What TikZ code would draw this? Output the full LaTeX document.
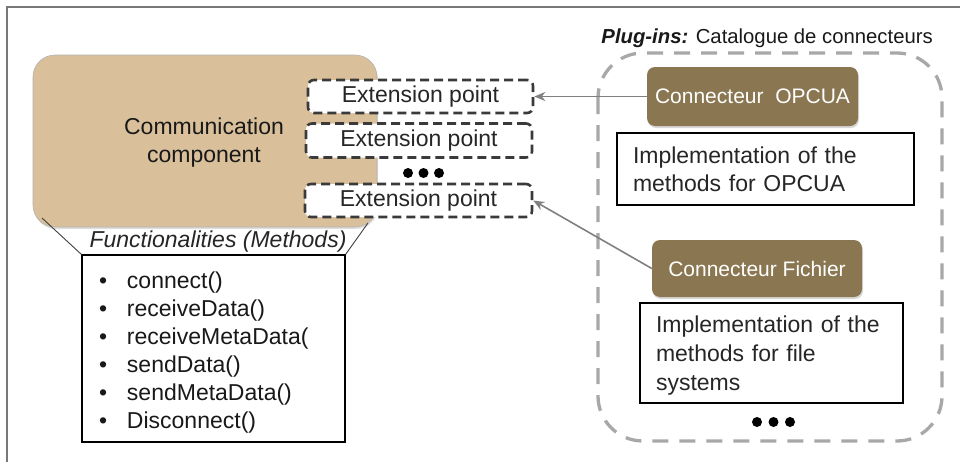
\documentclass[tikz,border=0pt]{standalone}
\usepackage{fontspec}
\setmainfont{Liberation Sans}
\usetikzlibrary{arrows.meta,shadows}
\definecolor{tanc}{RGB}{217,192,155}
\definecolor{brownc}{RGB}{138,119,81}
\definecolor{framec}{RGB}{120,120,120}
\definecolor{dashc}{RGB}{58,58,58}
\definecolor{regionc}{RGB}{168,168,168}
\definecolor{arrowc}{RGB}{128,128,128}
\tikzset{
  body/.style={font=\fontsize{23}{28}\selectfont},
  extbox/.style={body, draw=dashc, fill=white, line width=2.6pt, dash pattern=on 9pt off 5pt,
     rounded corners=6pt, inner sep=0pt, text=black!85},
  connbox/.style={fill=brownc, rounded corners=8pt, text=white, inner sep=0pt,
     font=\fontsize{21}{25}\selectfont,
     drop shadow={opacity=0.3, shadow xshift=1pt, shadow yshift=-2pt}},
  implbox/.style={body, draw=black, line width=1.2pt, fill=white, align=left, inner ysep=0pt, inner xsep=16pt, text=black!85},
  linkarrow/.style={draw=arrowc, line width=1.6pt, -{Stealth[length=11pt,width=9pt]}},
  funcline/.style={draw=black!75, line width=0.9pt},
}
\begin{document}
\begin{tikzpicture}[x=1pt,y=-1pt]
\useasboundingbox (0,0) rectangle (960,461);
\fill[white] (0,0) rectangle (960,461);
% frame
\draw[framec, line width=2pt] (961,7) -- (7,7) -- (7,462);

% communication component
\node[body, fill=tanc, draw=black!30, line width=0.6pt, rounded corners=22pt, minimum width=344pt, minimum height=172pt, inner sep=0pt,
  drop shadow={opacity=0.25, shadow xshift=1pt, shadow yshift=-2pt}] (comp) at (205,141) {};
\node[body, align=center, text=black!90] (comptext) at (204,143) {Communication\\component};

% extension points
\node[extbox, minimum width=225pt, minimum height=33pt] (ep1) at (420.5,96.5) {Extension point};
\node[extbox, minimum width=226pt, minimum height=34pt] (ep2) at (419,140.5) {Extension point};
\node[extbox, minimum width=227pt, minimum height=33pt] (ep3) at (418.5,200.5) {Extension point};
\fill[black] (408,173) circle (5pt) (423.5,173) circle (5pt) (439,173) circle (5pt);

% functionalities
\node[body, font=\fontsize{23}{28}\selectfont\itshape, text=black!85] (functitle) at (218,242) {Functionalities (Methods)};
\node[draw=black, line width=1.2pt, fill=white, minimum width=263pt, minimum height=187pt, inner sep=0pt] (methods) at (213.5,348.5) {};
\node[body, text width=229pt, inner sep=0pt, align=left, text=black!90] (methodslist) at (213.5,352.5)
  {\makebox[28pt][l]{•}connect()\\
   \makebox[28pt][l]{•}receiveData()\\
   \makebox[28pt][l]{•}receiveMetaData(\\
   \makebox[28pt][l]{•}sendData()\\
   \makebox[28pt][l]{•}sendMetaData()\\
   \makebox[28pt][l]{•}Disconnect()};
\coordinate (trapl) at (42,218);
\coordinate (trapr) at (368,223);
\draw[funcline] (trapl) -- (methods.north west);
\draw[funcline] (trapr) -- (methods.north east);

% plug-ins region
\draw[regionc, line width=3.3pt, dash pattern=on 16pt off 11pt, rounded corners=45pt] (598,53) rectangle (942,441);
\node[anchor=east, font=\fontsize{20.3}{24}\selectfont, text=black!90, inner sep=0pt] (pluglabel) at (933,38)
  {\textbf{\textit{Plug-ins:}} Catalogue de connecteurs};

\node[connbox, minimum width=211pt, minimum height=59pt] (opcua) at (752.5,96.5) {Connecteur\ \ OPCUA};
\node[implbox, minimum width=297pt, minimum height=72pt, text width=265pt] (impl1) at (765.5,169)
  {Implementation of the\\methods for OPCUA};
\node[connbox, minimum width=210pt, minimum height=57pt] (fichier) at (757,268.5) {Connecteur Fichier};
\node[implbox, minimum width=263pt, minimum height=100pt, text width=231pt] (impl2) at (771.5,353) {};
\node[font=\fontsize{23}{29}\selectfont, text width=231pt, align=left, inner sep=0pt, text=black!85] (impl2text) at (771.5,355.5)
  {Implementation of the\\methods for file\\systems};
\fill[black] (757,422) circle (5pt) (773.5,422) circle (5pt) (790,422) circle (5pt);

% arrows
\draw[linkarrow] (opcua.west) -- (ep1.east);
\draw[linkarrow] (fichier.west) -- (ep3.east);
\end{tikzpicture}
\end{document}
